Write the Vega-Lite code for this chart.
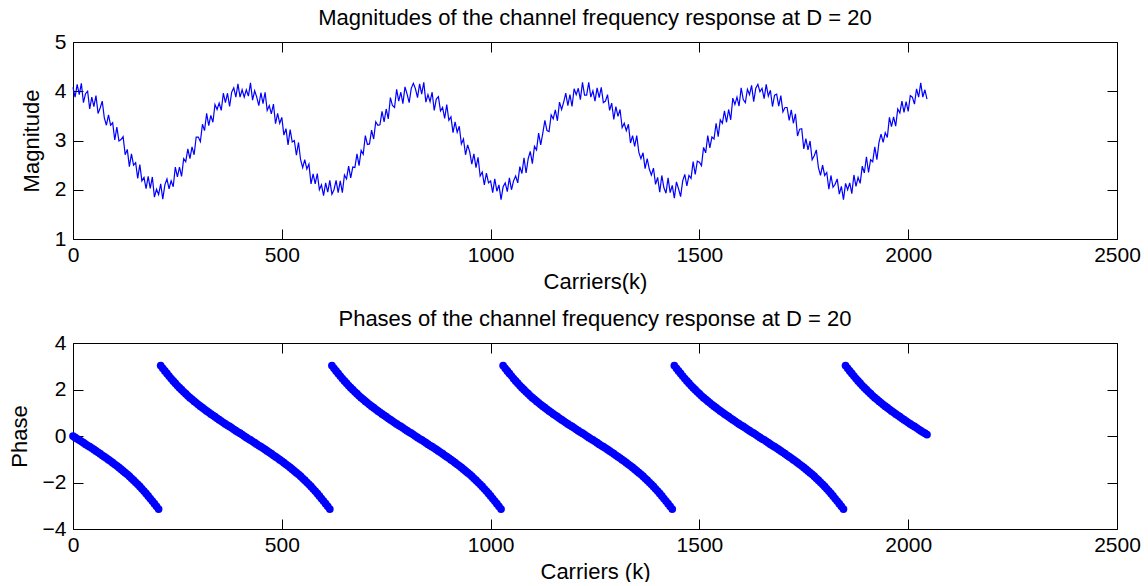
{
"$schema": "https://vega.github.io/schema/vega-lite/v6.json",
"padding": {"left": 8, "top": 7, "right": 4, "bottom": 0},
"config": {
 "font": "Liberation Sans",
 "view": {"stroke": null},
 "axis": {"grid": false, "domainColor": "#000000", "tickColor": "#000000", "labelColor": "#000000", "titleColor": "#000000", "labelFontSize": 21, "titleFontSize": 22, "titleFontWeight": "normal", "labelFont": "Liberation Sans", "titleFont": "Liberation Sans", "tickSize": -10, "domainWidth": 1, "tickWidth": 1, "labelFlush": false, "labelOverlap": false, "format": "d"},
 "title": {"fontSize": 22, "fontWeight": "normal", "font": "Liberation Sans", "color": "#000000", "offset": 1},
 "concat": {"spacing": 16}
},
"datasets": {"d": [
{"k":0,"m":4.08,"p":0},{"k":5,"m":3.88,"p":-0.06},{"k":10,"m":4.14,"p":-0.12},{"k":15,"m":3.93,"p":-0.17},{"k":20,"m":4.16,"p":-0.23},{"k":25,"m":3.77,"p":-0.29},{"k":30,"m":3.95,"p":-0.35},{"k":35,"m":4.00,"p":-0.41},{"k":40,"m":3.64,"p":-0.46},{"k":45,"m":3.88,"p":-0.52},{"k":50,"m":3.69,"p":-0.58},{"k":55,"m":3.91,"p":-0.64},{"k":60,"m":3.55,"p":-0.70},{"k":65,"m":3.66,"p":-0.76},{"k":70,"m":3.80,"p":-0.83},{"k":75,"m":3.46,"p":-0.89},{"k":80,"m":3.31,"p":-0.95},{"k":85,"m":3.52,"p":-1.02},{"k":90,"m":3.31,"p":-1.08},{"k":95,"m":3.36,"p":-1.15},{"k":100,"m":3.01,"p":-1.22},{"k":105,"m":3.27,"p":-1.28},{"k":110,"m":2.99,"p":-1.35},{"k":115,"m":3.02,"p":-1.43},{"k":120,"m":3.08,"p":-1.50},{"k":125,"m":2.71,"p":-1.58},{"k":130,"m":2.82,"p":-1.65},{"k":135,"m":2.47,"p":-1.73},{"k":140,"m":2.73,"p":-1.82},{"k":145,"m":2.50,"p":-1.90},{"k":150,"m":2.55,"p":-1.99},{"k":155,"m":2.23,"p":-2.08},{"k":160,"m":2.51,"p":-2.17},{"k":165,"m":2.18,"p":-2.27},{"k":170,"m":2.25,"p":-2.37},{"k":175,"m":2.02,"p":-2.47},{"k":180,"m":2.27,"p":-2.58},{"k":185,"m":2.03,"p":-2.69},{"k":190,"m":2.26,"p":-2.80},{"k":195,"m":1.85,"p":-2.91},{"k":200,"m":2.01,"p":-3.03},{"k":205,"m":1.90,"p":-3.14},{"k":210,"m":2.12,"p":3.03},{"k":215,"m":1.81,"p":2.91},{"k":220,"m":2.10,"p":2.80},{"k":225,"m":2.22,"p":2.69},{"k":230,"m":2.02,"p":2.58},{"k":235,"m":2.18,"p":2.47},{"k":240,"m":2.06,"p":2.37},{"k":245,"m":2.46,"p":2.27},{"k":250,"m":2.26,"p":2.17},{"k":255,"m":2.46,"p":2.08},{"k":260,"m":2.27,"p":1.99},{"k":265,"m":2.63,"p":1.90},{"k":270,"m":2.57,"p":1.82},{"k":275,"m":2.83,"p":1.73},{"k":280,"m":2.63,"p":1.65},{"k":285,"m":2.87,"p":1.58},{"k":290,"m":2.71,"p":1.50},{"k":295,"m":3.07,"p":1.43},{"k":300,"m":3.07,"p":1.35},{"k":305,"m":2.98,"p":1.28},{"k":310,"m":3.33,"p":1.22},{"k":315,"m":3.20,"p":1.15},{"k":320,"m":3.55,"p":1.08},{"k":325,"m":3.30,"p":1.02},{"k":330,"m":3.51,"p":0.95},{"k":335,"m":3.37,"p":0.89},{"k":340,"m":3.73,"p":0.83},{"k":345,"m":3.63,"p":0.76},{"k":350,"m":3.76,"p":0.70},{"k":355,"m":3.61,"p":0.64},{"k":360,"m":3.96,"p":0.58},{"k":365,"m":3.77,"p":0.52},{"k":370,"m":3.96,"p":0.46},{"k":375,"m":3.69,"p":0.41},{"k":380,"m":3.98,"p":0.35},{"k":385,"m":4.07,"p":0.29},{"k":390,"m":3.88,"p":0.23},{"k":395,"m":4.15,"p":0.17},{"k":400,"m":3.88,"p":0.12},{"k":405,"m":4.03,"p":0.06},
{"k":410,"m":3.88,"p":0},{"k":415,"m":4.03,"p":-0.06},{"k":420,"m":3.90,"p":-0.12},{"k":425,"m":4.17,"p":-0.17},{"k":430,"m":3.82,"p":-0.23},{"k":435,"m":4.01,"p":-0.29},{"k":440,"m":3.88,"p":-0.35},{"k":445,"m":3.71,"p":-0.41},{"k":450,"m":3.97,"p":-0.46},{"k":455,"m":3.75,"p":-0.52},{"k":460,"m":3.98,"p":-0.58},{"k":465,"m":3.61,"p":-0.64},{"k":470,"m":3.71,"p":-0.70},{"k":475,"m":3.54,"p":-0.76},{"k":480,"m":3.74,"p":-0.83},{"k":485,"m":3.34,"p":-0.89},{"k":490,"m":3.55,"p":-0.95},{"k":495,"m":3.35,"p":-1.02},{"k":500,"m":3.47,"p":-1.08},{"k":505,"m":3.11,"p":-1.15},{"k":510,"m":3.24,"p":-1.22},{"k":515,"m":2.91,"p":-1.28},{"k":520,"m":3.22,"p":-1.35},{"k":525,"m":2.97,"p":-1.43},{"k":530,"m":3.00,"p":-1.50},{"k":535,"m":2.70,"p":-1.58},{"k":540,"m":2.96,"p":-1.65},{"k":545,"m":2.61,"p":-1.73},{"k":550,"m":2.45,"p":-1.82},{"k":555,"m":2.61,"p":-1.90},{"k":560,"m":2.42,"p":-1.99},{"k":565,"m":2.52,"p":-2.08},{"k":570,"m":2.12,"p":-2.17},{"k":575,"m":2.32,"p":-2.27},{"k":580,"m":2.12,"p":-2.37},{"k":585,"m":2.33,"p":-2.47},{"k":590,"m":2.00,"p":-2.58},{"k":595,"m":2.10,"p":-2.69},{"k":600,"m":1.88,"p":-2.80},{"k":605,"m":2.14,"p":-2.91},{"k":610,"m":1.95,"p":-3.03},{"k":615,"m":2.19,"p":-3.14},{"k":620,"m":1.91,"p":3.03},{"k":625,"m":2.00,"p":2.91},{"k":630,"m":2.19,"p":2.80},{"k":635,"m":1.94,"p":2.69},{"k":640,"m":2.18,"p":2.58},{"k":645,"m":1.94,"p":2.47},{"k":650,"m":2.30,"p":2.37},{"k":655,"m":2.22,"p":2.27},{"k":660,"m":2.48,"p":2.17},{"k":665,"m":2.24,"p":2.08},{"k":670,"m":2.46,"p":1.99},{"k":675,"m":2.45,"p":1.90},{"k":680,"m":2.73,"p":1.82},{"k":685,"m":2.49,"p":1.73},{"k":690,"m":2.80,"p":1.65},{"k":695,"m":2.72,"p":1.58},{"k":700,"m":3.10,"p":1.50},{"k":705,"m":2.92,"p":1.43},{"k":710,"m":2.93,"p":1.35},{"k":715,"m":3.21,"p":1.28},{"k":720,"m":3.03,"p":1.22},{"k":725,"m":3.38,"p":1.15},{"k":730,"m":3.31,"p":1.08},{"k":735,"m":3.32,"p":1.02},{"k":740,"m":3.59,"p":0.95},{"k":745,"m":3.38,"p":0.89},{"k":750,"m":3.64,"p":0.83},{"k":755,"m":3.44,"p":0.76},{"k":760,"m":3.87,"p":0.70},{"k":765,"m":3.71,"p":0.64},{"k":770,"m":3.67,"p":0.58},{"k":775,"m":4.04,"p":0.52},{"k":780,"m":3.80,"p":0.46},{"k":785,"m":3.98,"p":0.41},{"k":790,"m":3.75,"p":0.35},{"k":795,"m":4.09,"p":0.29},{"k":800,"m":3.94,"p":0.23},{"k":805,"m":3.77,"p":0.17},{"k":810,"m":4.06,"p":0.12},{"k":815,"m":4.16,"p":0.06},
{"k":820,"m":4.05,"p":0},{"k":825,"m":3.87,"p":-0.06},{"k":830,"m":4.15,"p":-0.12},{"k":835,"m":3.94,"p":-0.17},{"k":840,"m":4.18,"p":-0.23},{"k":845,"m":3.78,"p":-0.29},{"k":850,"m":3.93,"p":-0.35},{"k":855,"m":3.79,"p":-0.41},{"k":860,"m":3.98,"p":-0.46},{"k":865,"m":3.61,"p":-0.52},{"k":870,"m":3.84,"p":-0.58},{"k":875,"m":3.89,"p":-0.64},{"k":880,"m":3.60,"p":-0.70},{"k":885,"m":3.67,"p":-0.76},{"k":890,"m":3.45,"p":-0.83},{"k":895,"m":3.73,"p":-0.89},{"k":900,"m":3.41,"p":-0.95},{"k":905,"m":3.48,"p":-1.02},{"k":910,"m":3.16,"p":-1.08},{"k":915,"m":3.38,"p":-1.15},{"k":920,"m":3.17,"p":-1.22},{"k":925,"m":3.29,"p":-1.28},{"k":930,"m":2.93,"p":-1.35},{"k":935,"m":3.03,"p":-1.43},{"k":940,"m":2.71,"p":-1.50},{"k":945,"m":2.91,"p":-1.58},{"k":950,"m":2.77,"p":-1.65},{"k":955,"m":2.52,"p":-1.73},{"k":960,"m":2.73,"p":-1.82},{"k":965,"m":2.45,"p":-1.90},{"k":970,"m":2.66,"p":-1.99},{"k":975,"m":2.28,"p":-2.08},{"k":980,"m":2.36,"p":-2.17},{"k":985,"m":2.10,"p":-2.27},{"k":990,"m":2.34,"p":-2.37},{"k":995,"m":2.14,"p":-2.47},{"k":1000,"m":2.18,"p":-2.58},{"k":1005,"m":1.94,"p":-2.69},{"k":1010,"m":2.22,"p":-2.80},{"k":1015,"m":1.97,"p":-2.91},{"k":1020,"m":2.10,"p":-3.03},{"k":1025,"m":1.80,"p":-3.14},{"k":1030,"m":2.06,"p":3.03},{"k":1035,"m":2.14,"p":2.91},{"k":1040,"m":1.96,"p":2.80},{"k":1045,"m":2.24,"p":2.69},{"k":1050,"m":2.00,"p":2.58},{"k":1055,"m":2.18,"p":2.47},{"k":1060,"m":2.28,"p":2.37},{"k":1065,"m":2.14,"p":2.27},{"k":1070,"m":2.47,"p":2.17},{"k":1075,"m":2.33,"p":2.08},{"k":1080,"m":2.65,"p":1.99},{"k":1085,"m":2.34,"p":1.90},{"k":1090,"m":2.63,"p":1.82},{"k":1095,"m":2.78,"p":1.73},{"k":1100,"m":2.53,"p":1.65},{"k":1105,"m":2.88,"p":1.58},{"k":1110,"m":2.81,"p":1.50},{"k":1115,"m":3.15,"p":1.43},{"k":1120,"m":2.91,"p":1.35},{"k":1125,"m":3.15,"p":1.28},{"k":1130,"m":3.41,"p":1.22},{"k":1135,"m":3.20,"p":1.15},{"k":1140,"m":3.18,"p":1.08},{"k":1145,"m":3.52,"p":1.02},{"k":1150,"m":3.44,"p":0.95},{"k":1155,"m":3.62,"p":0.89},{"k":1160,"m":3.40,"p":0.83},{"k":1165,"m":3.78,"p":0.76},{"k":1170,"m":3.63,"p":0.70},{"k":1175,"m":3.78,"p":0.64},{"k":1180,"m":3.96,"p":0.58},{"k":1185,"m":3.71,"p":0.52},{"k":1190,"m":3.93,"p":0.46},{"k":1195,"m":3.69,"p":0.41},{"k":1200,"m":4.05,"p":0.35},{"k":1205,"m":3.93,"p":0.29},{"k":1210,"m":4.06,"p":0.23},{"k":1215,"m":3.83,"p":0.17},{"k":1220,"m":4.18,"p":0.12},{"k":1225,"m":3.92,"p":0.06},
{"k":1230,"m":3.92,"p":0},{"k":1235,"m":4.18,"p":-0.06},{"k":1240,"m":3.88,"p":-0.12},{"k":1245,"m":4.01,"p":-0.17},{"k":1250,"m":3.80,"p":-0.23},{"k":1255,"m":4.07,"p":-0.29},{"k":1260,"m":3.87,"p":-0.35},{"k":1265,"m":4.08,"p":-0.41},{"k":1270,"m":3.77,"p":-0.46},{"k":1275,"m":3.80,"p":-0.52},{"k":1280,"m":3.93,"p":-0.58},{"k":1285,"m":3.61,"p":-0.64},{"k":1290,"m":3.76,"p":-0.70},{"k":1295,"m":3.43,"p":-0.76},{"k":1300,"m":3.69,"p":-0.83},{"k":1305,"m":3.49,"p":-0.89},{"k":1310,"m":3.63,"p":-0.95},{"k":1315,"m":3.26,"p":-1.02},{"k":1320,"m":3.35,"p":-1.08},{"k":1325,"m":3.20,"p":-1.15},{"k":1330,"m":3.33,"p":-1.22},{"k":1335,"m":2.95,"p":-1.28},{"k":1340,"m":3.10,"p":-1.35},{"k":1345,"m":2.88,"p":-1.43},{"k":1350,"m":3.10,"p":-1.50},{"k":1355,"m":2.76,"p":-1.58},{"k":1360,"m":2.63,"p":-1.65},{"k":1365,"m":2.75,"p":-1.73},{"k":1370,"m":2.43,"p":-1.82},{"k":1375,"m":2.63,"p":-1.90},{"k":1380,"m":2.42,"p":-1.99},{"k":1385,"m":2.30,"p":-2.08},{"k":1390,"m":2.44,"p":-2.17},{"k":1395,"m":2.11,"p":-2.27},{"k":1400,"m":2.25,"p":-2.37},{"k":1405,"m":1.95,"p":-2.47},{"k":1410,"m":2.29,"p":-2.58},{"k":1415,"m":2.04,"p":-2.69},{"k":1420,"m":1.93,"p":-2.80},{"k":1425,"m":2.24,"p":-2.91},{"k":1430,"m":1.94,"p":-3.03},{"k":1435,"m":2.09,"p":-3.14},{"k":1440,"m":1.83,"p":3.03},{"k":1445,"m":2.16,"p":2.91},{"k":1450,"m":2.02,"p":2.80},{"k":1455,"m":1.86,"p":2.69},{"k":1460,"m":2.18,"p":2.58},{"k":1465,"m":2.31,"p":2.47},{"k":1470,"m":2.08,"p":2.37},{"k":1475,"m":2.29,"p":2.27},{"k":1480,"m":2.23,"p":2.17},{"k":1485,"m":2.57,"p":2.08},{"k":1490,"m":2.31,"p":1.99},{"k":1495,"m":2.58,"p":1.90},{"k":1500,"m":2.56,"p":1.82},{"k":1505,"m":2.49,"p":1.73},{"k":1510,"m":2.86,"p":1.65},{"k":1515,"m":2.75,"p":1.58},{"k":1520,"m":3.10,"p":1.50},{"k":1525,"m":2.85,"p":1.43},{"k":1530,"m":3.07,"p":1.35},{"k":1535,"m":3.03,"p":1.28},{"k":1540,"m":3.35,"p":1.22},{"k":1545,"m":3.08,"p":1.15},{"k":1550,"m":3.42,"p":1.08},{"k":1555,"m":3.35,"p":1.02},{"k":1560,"m":3.60,"p":0.95},{"k":1565,"m":3.37,"p":0.89},{"k":1570,"m":3.63,"p":0.83},{"k":1575,"m":3.42,"p":0.76},{"k":1580,"m":3.86,"p":0.70},{"k":1585,"m":3.73,"p":0.64},{"k":1590,"m":3.88,"p":0.58},{"k":1595,"m":3.70,"p":0.52},{"k":1600,"m":4.07,"p":0.46},{"k":1605,"m":3.83,"p":0.41},{"k":1610,"m":3.77,"p":0.35},{"k":1615,"m":4.04,"p":0.29},{"k":1620,"m":3.93,"p":0.23},{"k":1625,"m":4.12,"p":0.17},{"k":1630,"m":3.79,"p":0.12},{"k":1635,"m":4.06,"p":0.06},
{"k":1640,"m":4.14,"p":0},{"k":1645,"m":3.99,"p":-0.06},{"k":1650,"m":4.06,"p":-0.12},{"k":1655,"m":3.85,"p":-0.17},{"k":1660,"m":4.14,"p":-0.23},{"k":1665,"m":3.90,"p":-0.29},{"k":1670,"m":4.02,"p":-0.35},{"k":1675,"m":3.69,"p":-0.41},{"k":1680,"m":3.92,"p":-0.46},{"k":1685,"m":3.94,"p":-0.52},{"k":1690,"m":3.70,"p":-0.58},{"k":1695,"m":3.91,"p":-0.64},{"k":1700,"m":3.58,"p":-0.70},{"k":1705,"m":3.67,"p":-0.76},{"k":1710,"m":3.67,"p":-0.83},{"k":1715,"m":3.41,"p":-0.89},{"k":1720,"m":3.62,"p":-0.95},{"k":1725,"m":3.35,"p":-1.02},{"k":1730,"m":3.54,"p":-1.08},{"k":1735,"m":3.09,"p":-1.15},{"k":1740,"m":3.23,"p":-1.22},{"k":1745,"m":3.24,"p":-1.28},{"k":1750,"m":2.83,"p":-1.35},{"k":1755,"m":3.04,"p":-1.43},{"k":1760,"m":2.81,"p":-1.50},{"k":1765,"m":2.99,"p":-1.58},{"k":1770,"m":2.61,"p":-1.65},{"k":1775,"m":2.69,"p":-1.73},{"k":1780,"m":2.81,"p":-1.82},{"k":1785,"m":2.45,"p":-1.90},{"k":1790,"m":2.29,"p":-1.99},{"k":1795,"m":2.50,"p":-2.08},{"k":1800,"m":2.29,"p":-2.17},{"k":1805,"m":2.35,"p":-2.27},{"k":1810,"m":2.01,"p":-2.37},{"k":1815,"m":2.29,"p":-2.47},{"k":1820,"m":2.05,"p":-2.58},{"k":1825,"m":2.11,"p":-2.69},{"k":1830,"m":2.22,"p":-2.80},{"k":1835,"m":1.91,"p":-2.91},{"k":1840,"m":2.07,"p":-3.03},{"k":1845,"m":1.80,"p":-3.14},{"k":1850,"m":2.13,"p":3.03},{"k":1855,"m":2.00,"p":2.91},{"k":1860,"m":2.14,"p":2.80},{"k":1865,"m":1.92,"p":2.69},{"k":1870,"m":2.30,"p":2.58},{"k":1875,"m":2.07,"p":2.47},{"k":1880,"m":2.25,"p":2.37},{"k":1885,"m":2.13,"p":2.27},{"k":1890,"m":2.48,"p":2.17},{"k":1895,"m":2.34,"p":2.08},{"k":1900,"m":2.67,"p":1.99},{"k":1905,"m":2.35,"p":1.90},{"k":1910,"m":2.61,"p":1.82},{"k":1915,"m":2.57,"p":1.73},{"k":1920,"m":2.87,"p":1.65},{"k":1925,"m":2.61,"p":1.58},{"k":1930,"m":2.96,"p":1.50},{"k":1935,"m":3.13,"p":1.43},{"k":1940,"m":2.96,"p":1.35},{"k":1945,"m":3.16,"p":1.28},{"k":1950,"m":3.06,"p":1.22},{"k":1955,"m":3.47,"p":1.15},{"k":1960,"m":3.28,"p":1.08},{"k":1965,"m":3.48,"p":1.02},{"k":1970,"m":3.29,"p":0.95},{"k":1975,"m":3.64,"p":0.89},{"k":1980,"m":3.56,"p":0.83},{"k":1985,"m":3.80,"p":0.76},{"k":1990,"m":3.57,"p":0.70},{"k":1995,"m":3.79,"p":0.64},{"k":2000,"m":3.59,"p":0.58},{"k":2005,"m":3.91,"p":0.52},{"k":2010,"m":3.88,"p":0.46},{"k":2015,"m":3.74,"p":0.41},{"k":2020,"m":4.05,"p":0.35},{"k":2025,"m":3.88,"p":0.29},{"k":2030,"m":4.17,"p":0.23},{"k":2035,"m":3.88,"p":0.17},{"k":2040,"m":4.03,"p":0.12},{"k":2045,"m":3.84,"p":0.06}
]},
"vconcat": [
 {
  "width": 1044, "height": 197,
  "title": "Magnitudes of the channel frequency response at D = 20",
  "data": {"name": "d"},
  "layer": [
   {"mark": {"type": "line", "color": "#0000ff", "strokeWidth": 1.2},
    "encoding": {
     "x": {"field": "k", "type": "quantitative", "scale": {"domain": [0, 2500], "nice": false}, "axis": {"values": [0, 500, 1000, 1500, 2000, 2500], "title": "Carriers(k)", "labelPadding": 15, "titlePadding": 6}},
     "y": {"field": "m", "type": "quantitative", "scale": {"domain": [1, 5], "nice": false, "zero": false}, "axis": {"values": [1, 2, 3, 4, 5], "title": "Magnitude", "labelPadding": 17, "titlePadding": 11}}
    }},
   {"mark": {"type": "line", "opacity": 0},
    "encoding": {
     "x": {"field": "k", "type": "quantitative", "axis": {"orient": "top", "values": [0, 500, 1000, 1500, 2000, 2500], "labels": false, "title": null}},
     "y": {"field": "m", "type": "quantitative", "axis": {"orient": "right", "values": [1, 2, 3, 4, 5], "labels": false, "title": null}}
    }}
  ],
  "resolve": {"axis": {"x": "independent", "y": "independent"}}
 },
 {
  "width": 1044, "height": 186,
  "title": "Phases of the channel frequency response at D = 20",
  "data": {"name": "d"},
  "layer": [
   {"mark": {"type": "point", "filled": true, "color": "#0000ff", "opacity": 1, "size": 60},
    "encoding": {
     "x": {"field": "k", "type": "quantitative", "scale": {"domain": [0, 2500], "nice": false}, "axis": {"values": [0, 500, 1000, 1500, 2000, 2500], "title": "Carriers (k)", "labelPadding": 15, "titlePadding": 6}},
     "y": {"field": "p", "type": "quantitative", "scale": {"domain": [-4, 4], "nice": false, "zero": false}, "axis": {"values": [-4, -2, 0, 2, 4], "title": "Phase", "labelPadding": 17, "titlePadding": 11}}
    }},
   {"mark": {"type": "point", "opacity": 0},
    "encoding": {
     "x": {"field": "k", "type": "quantitative", "axis": {"orient": "top", "values": [0, 500, 1000, 1500, 2000, 2500], "labels": false, "title": null}},
     "y": {"field": "p", "type": "quantitative", "axis": {"orient": "right", "values": [-4, -2, 0, 2, 4], "labels": false, "title": null}}
    }}
  ],
  "resolve": {"axis": {"x": "independent", "y": "independent"}}
 }
]
}
